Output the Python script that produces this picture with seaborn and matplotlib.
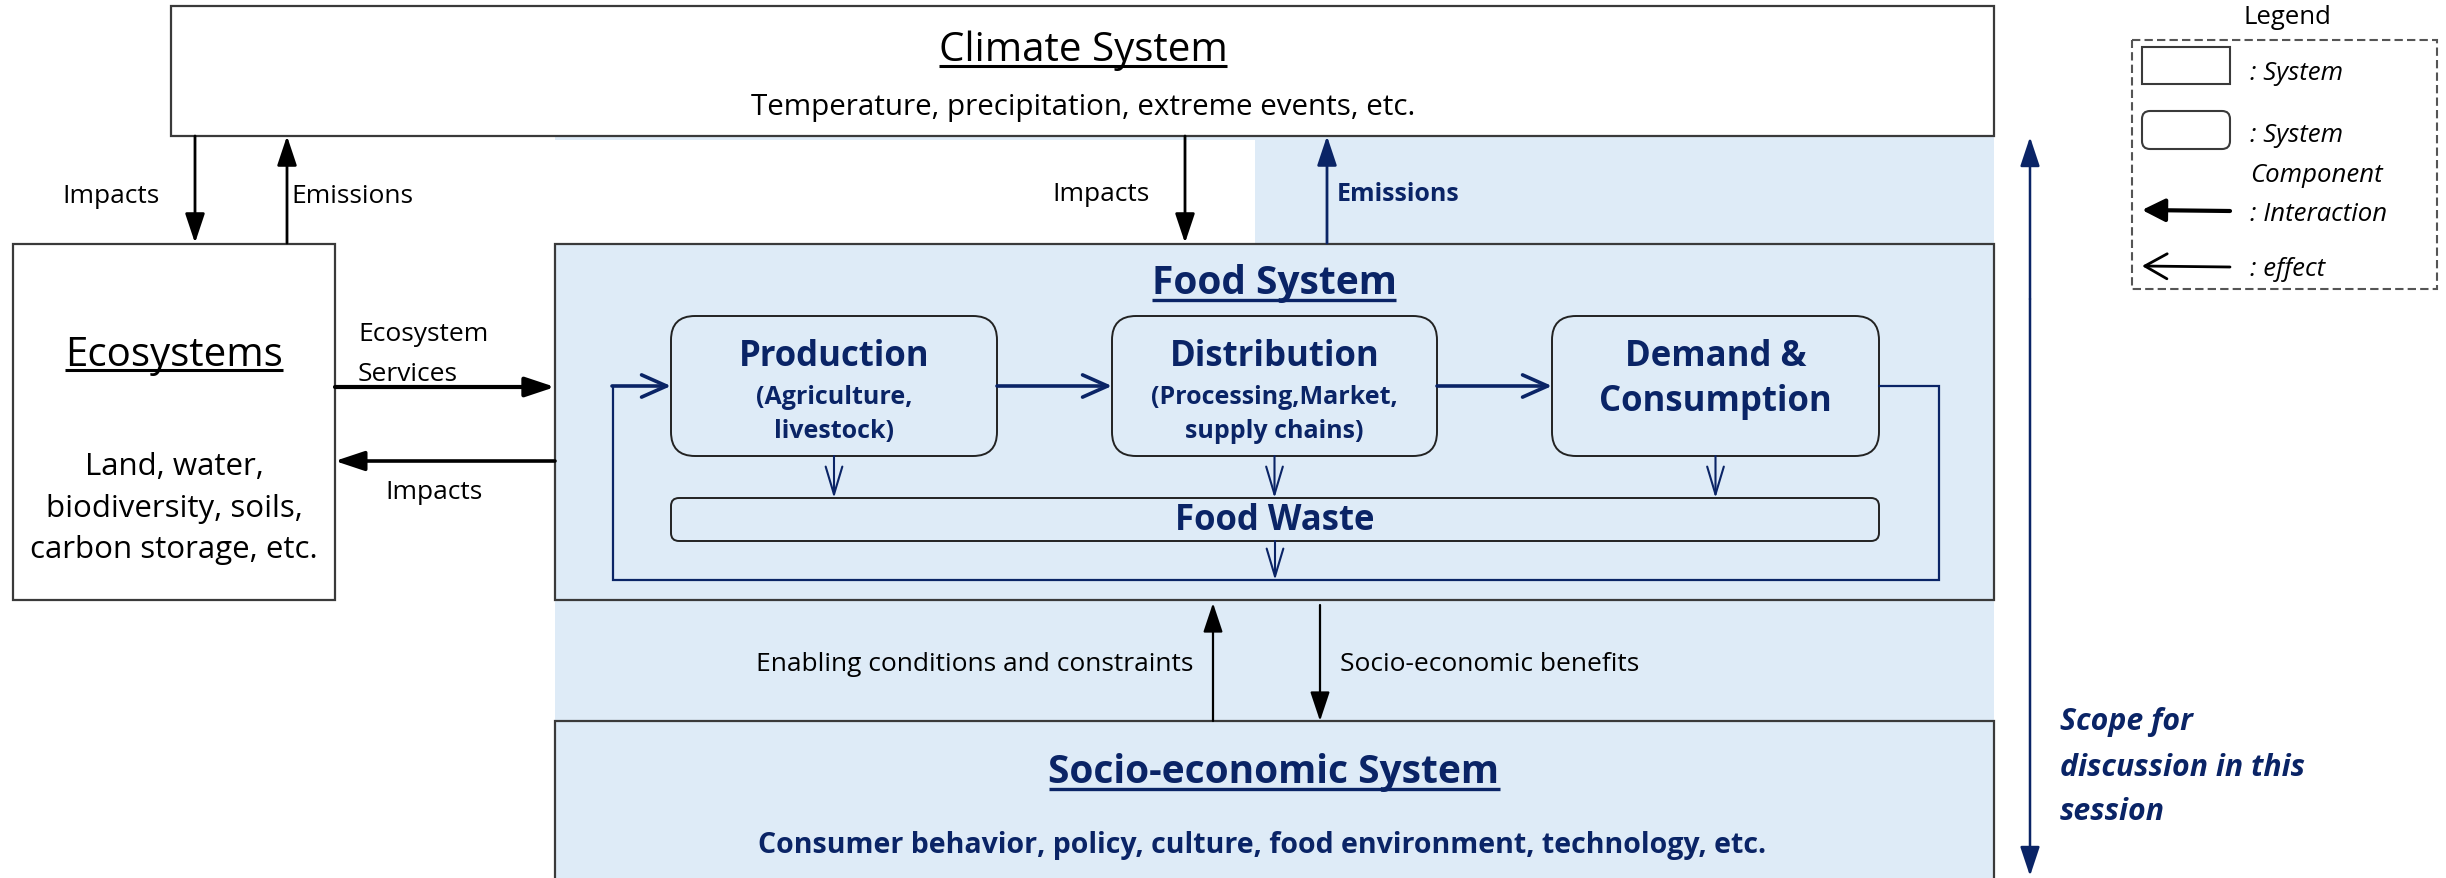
import matplotlib
matplotlib.use("Agg")
import matplotlib.pyplot as plt
from matplotlib.patches import Rectangle, FancyBboxPatch, FancyArrowPatch
import seaborn as sns

sns.set_theme(style="white")
plt.rcParams['font.family'] = ['Open Sans', 'DejaVu Sans']

# ---- text content ----
climate_title = "Climate System"
climate_sub = "Temperature, precipitation, extreme events, etc."
eco_title = "Ecosystems"
eco_lines = ["Land, water,", "biodiversity, soils,", "carbon storage, etc."]
food_title = "Food System"
components = ["Production", "Distribution", "Demand &"]
component_subs = [["(Agriculture,", "livestock)"], ["(Processing,Market,", "supply chains)"], []]
waste_label = "Food Waste"
socio_title = "Socio-economic System"
socio_sub = "Consumer behavior, policy, culture, food environment, technology, etc."
arrow_labels = {"impacts": "Impacts", "emissions": "Emissions",
                "services": ["Ecosystem", "Services"],
                "enabling": "Enabling conditions and constraints",
                "benefits": "Socio-economic benefits"}
scope_lines = ["Scope for", "discussion in this", "session"]
legend_title = "Legend"
legend_items = [": System", ": System", "Component", ": Interaction", ": effect"]

LB = "#DEEBF7"
NAVY = "#0A2466"
EDGE = "#3a3a3a"
SMALL = 19

W, H = 2446, 879
fig = plt.figure(figsize=(W / 100, H / 100), dpi=100)
ax = fig.add_axes([0, 0, 1, 1])
ax.set_xlim(0, W)
ax.set_ylim(H, 0)
ax.axis("off")


def rect(x0, y0, x1, y1, fc="white", ec=EDGE, lw=1.6, ls="-", z=1):
    ax.add_patch(Rectangle((x0, y0), x1 - x0, y1 - y0, fc=fc, ec=ec, lw=lw, ls=ls, zorder=z))


def rbox(x0, y0, x1, y1, r, fc=LB, ec="#222222", lw=1.4, z=3):
    ax.add_patch(FancyBboxPatch((x0, y0), x1 - x0, y1 - y0,
                                boxstyle=f"round,pad=0,rounding_size={r}",
                                fc=fc, ec=ec, lw=lw, zorder=z))


def arrow(p0, p1, color="black", lw=2.0, style="-|>,head_length=0.9,head_width=0.3", ms=20, z=5):
    ax.add_patch(FancyArrowPatch(p0, p1, arrowstyle=style, mutation_scale=ms,
                                 color=color, lw=lw, shrinkA=0, shrinkB=0, zorder=z))


def open_arrow(p0, p1, color=NAVY, lw=2.0, hl=0.8, hw=0.35, ms=20, z=5):
    arrow(p0, p1, color=color, lw=lw, style=f"->,head_length={hl},head_width={hw}", ms=ms, z=z)


def txt(x, y, s, size=SMALL, color="black", ha="center", va="center", **kw):
    return ax.text(x, y, s, fontsize=size, color=color, ha=ha, va=va, zorder=6, **kw)


underlines = []


def utitle(x, y, s, size, color, uy, lw, **kw):
    t = txt(x, y, s, size=size, color=color, va="baseline", **kw)
    underlines.append((t, uy, color, lw))
    return t


# ---- background bands ----
rect(1255, 135, 1994, 246, fc=LB, ec="none", z=0)
rect(555, 135, 1255, 141, fc=LB, ec="none", z=0)
rect(555, 600, 1994, 723, fc=LB, ec="none", z=0)

# ---- system boxes ----
rect(171, 7, 1994, 137)
rect(13, 245, 335, 601)
rect(555, 245, 1994, 601, fc=LB)
rect(555, 722, 1994, 900, fc=LB)

# ---- climate ----
utitle(1083, 61, climate_title, 29, "black", 67, 2.2)
txt(1083, 108, climate_sub, 21.3)

# ---- ecosystems ----
utitle(174, 366, eco_title, 29, "black", 371, 2.2)
for yy, s in zip([467, 509, 550], eco_lines):
    txt(174, yy, s, 22.5)

# ---- climate <-> ecosystems ----
arrow((195, 137), (195, 244))
arrow((287, 244), (287, 137))
txt(62, 197, arrow_labels["impacts"], ha="left")
txt(291, 197, arrow_labels["emissions"], ha="left")

# ---- climate <-> food ----
arrow((1185, 137), (1185, 244))
arrow((1327, 244), (1327, 137), color=NAVY)
txt(1150, 195, arrow_labels["impacts"], ha="right")
txt(1337, 195, arrow_labels["emissions"], 18, color=NAVY, ha="left", fontweight="bold")

# ---- ecosystems <-> food ----
arrow((335, 388), (555, 388), lw=3.0)
arrow((555, 462), (335, 462), lw=2.6)
txt(358, 335, arrow_labels["services"][0], ha="left")
txt(358, 375, arrow_labels["services"][1], ha="left")
txt(385, 493, arrow_labels["impacts"], ha="left")

# ---- food system ----
utitle(1274, 294, food_title, 28, NAVY, 301, 2.4, fontweight="bold")
boxes_x = [(671, 997), (1112, 1437), (1552, 1879)]
for (x0, x1), name, subs in zip(boxes_x, components, component_subs):
    rbox(x0, 317, x1, 457, 24)
    cx = (x0 + x1) / 2
    if subs:
        txt(cx, 357, name, 25, NAVY, fontweight="bold")
        txt(cx, 398, subs[0], 18, NAVY, fontweight="bold")
        txt(cx, 432, subs[1], 18, NAVY, fontweight="bold")
    else:
        txt(cx, 357, name, 25, NAVY, fontweight="bold")
        txt(cx, 402, "Consumption", 25, NAVY, fontweight="bold")
    open_arrow((cx, 457), (cx, 499), lw=1.5, hl=1.0, hw=0.3)
rbox(671, 499, 1879, 542, 8)
txt(1275, 521, waste_label, 25, NAVY, fontweight="bold")
open_arrow((1275, 542), (1275, 581), lw=1.5, hl=1.0, hw=0.3)

open_arrow((997, 387), (1112, 387), lw=2.6, hl=0.9, hw=0.4)
open_arrow((1437, 387), (1552, 387), lw=2.6, hl=0.9, hw=0.4)
ax.plot([1879, 1939, 1939, 613, 613], [387, 387, 581, 581, 387], color=NAVY, lw=1.6, zorder=4,
        solid_joinstyle="miter")
open_arrow((612, 387), (671, 387), lw=2.6, hl=0.9, hw=0.4)

# ---- food <-> socio ----
arrow((1213, 722), (1213, 604), lw=1.6)
arrow((1320, 606), (1320, 722), lw=1.6)
txt(1193, 665, arrow_labels["enabling"], ha="right")
txt(1340, 665, arrow_labels["benefits"], ha="left")

# ---- socio ----
utitle(1274, 783, socio_title, 28, NAVY, 790, 2.4, fontweight="bold")
txt(1262, 846, socio_sub, 20.5, NAVY, fontweight="bold")

# ---- scope ----
arrow((2030, 300), (2030, 138), color=NAVY, lw=1.8)
arrow((2030, 300), (2030, 877), color=NAVY, lw=1.8)
for yy, s in zip([722, 768, 812], scope_lines):
    txt(2060, yy, s, 21.8, NAVY, ha="left", fontweight="bold", fontstyle="italic")

# ---- legend ----
txt(2287, 18, legend_title, 18.5)
rect(2132, 41, 2437, 290, fc="white", ec="#555555", lw=1.5, ls=(0, (4, 2)), z=2)
rect(2142, 48, 2230, 85, fc="white", ec=EDGE, lw=1.5, z=3)
rbox(2142, 112, 2230, 150, 8, fc="white", ec=EDGE, lw=1.5)
for yy, s in zip([73, 136, 175, 215, 270], legend_items):
    txt(2250, yy, s, 18.5, ha="left", fontstyle="italic")
arrow((2230, 212), (2142, 211), lw=3.0, style="-|>,head_length=0.7,head_width=0.35", ms=20)
open_arrow((2230, 268), (2142, 267), color="black", lw=2.0, hl=0.8, hw=0.45)

# ---- underlines ----
fig.canvas.draw()
r = fig.canvas.get_renderer()
inv = ax.transData.inverted()
for t, uy, c, lw in underlines:
    bb = t.get_window_extent(renderer=r)
    (x0, _), (x1, _) = inv.transform([[bb.x0, bb.y0], [bb.x1, bb.y1]])
    ax.plot([x0, x1], [uy, uy], color=c, lw=lw, zorder=6, solid_capstyle="butt")

fig.savefig("out.png", dpi=100)
